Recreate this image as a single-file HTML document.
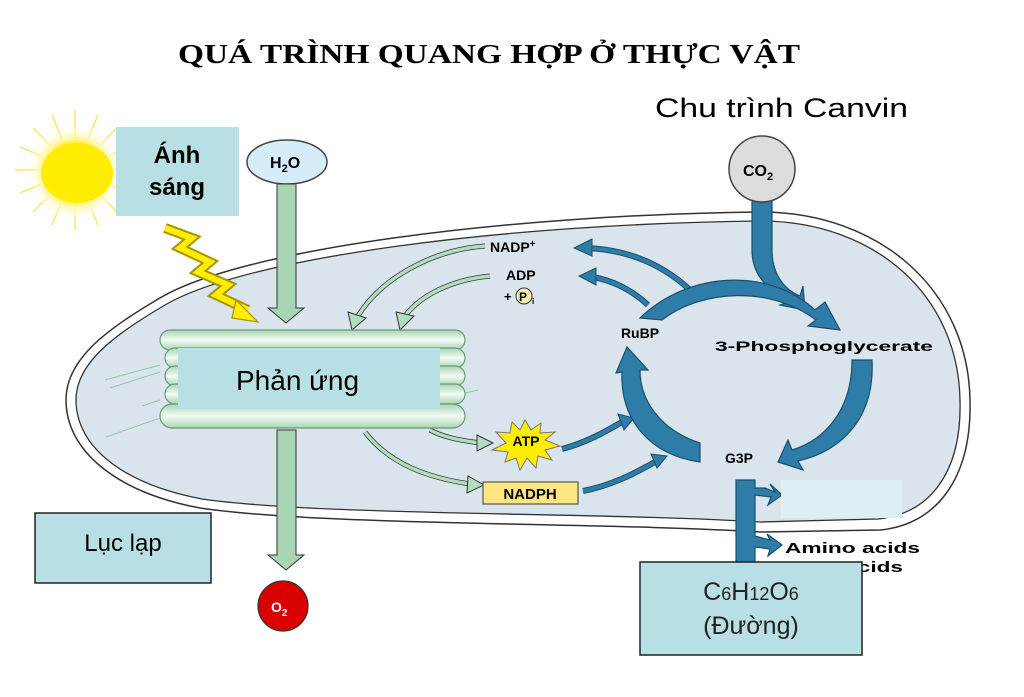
<!DOCTYPE html>
<html><head><meta charset="utf-8"><style>
html,body{margin:0;padding:0;background:#fff;}
svg{display:block;}
text{font-family:"Liberation Sans",sans-serif;}
</style></head><body>
<svg width="1024" height="697" viewBox="0 0 1024 697" xmlns="http://www.w3.org/2000/svg">
<defs>
<radialGradient id="sun" cx="50%" cy="50%" r="50%">
<stop offset="0" stop-color="#ffee00"/><stop offset="0.55" stop-color="#ffe800"/><stop offset="0.7" stop-color="#fff6a0"/><stop offset="1" stop-color="#fff" stop-opacity="0"/>
</radialGradient>
<linearGradient id="disc" x1="0" y1="0" x2="0" y2="1">
<stop offset="0" stop-color="#a9d4b4"/><stop offset="0.5" stop-color="#f2fbf4"/><stop offset="1" stop-color="#a9d4b4"/>
</linearGradient>
</defs>
<text x="178" y="63" font-weight="bold" font-size="27" textLength="622" lengthAdjust="spacingAndGlyphs" style="font-family:'Liberation Serif',serif">QUÁ TRÌNH QUANG HỢP Ở THỰC VẬT</text>
<text x="655" y="117" font-size="27" textLength="253" lengthAdjust="spacingAndGlyphs">Chu trình Canvin</text>

<!-- chloroplast -->
<path d="M160,298 C240,250 500,215 760,212 C880,212 968,290 970,400 C972,480 935,525 880,530 L760,532 C600,522 320,526 200,508 C115,492 66,450 66,400 C66,360 105,330 160,298 Z" fill="#fff" stroke="#333" stroke-width="1.5"/>
<path d="M165,305 C245,258 500,224 760,221 C875,221 958,295 960,400 C962,475 928,514 878,519 L760,522 C600,512 320,516 202,499 C122,484 76,446 76,400 C76,364 112,336 165,305 Z" fill="#d9e4ed" stroke="#333" stroke-width="1.3"/>

<!-- sun -->
<g stroke="#ffe36a" stroke-width="1.5">
<line x1="75" y1="110" x2="75" y2="230"/><line x1="15" y1="170" x2="135" y2="170"/>
<line x1="33" y1="128" x2="117" y2="212"/><line x1="33" y1="212" x2="117" y2="128"/>
<line x1="52" y1="115" x2="98" y2="225"/><line x1="98" y1="115" x2="52" y2="225"/>
<line x1="20" y1="147" x2="130" y2="193"/><line x1="20" y1="193" x2="130" y2="147"/>
</g>
<circle cx="75" cy="172" r="48" fill="url(#sun)"/>
<ellipse cx="77" cy="173" rx="36" ry="30" fill="#ffec00"/>
<rect x="116" y="127" width="123" height="89" fill="#b8dfe3"/>
<text x="177" y="163" font-size="24" font-weight="bold" text-anchor="middle">Ánh</text>
<text x="177" y="195" font-size="24" font-weight="bold" text-anchor="middle">sáng</text>

<!-- lightning -->
<polyline points="165,228 192,238 180,248 210,262 198,272 228,285 216,295 248,310" fill="none" stroke="#a89400" stroke-width="10" stroke-linejoin="miter"/>
<polyline points="165,228 192,238 180,248 210,262 198,272 228,285 216,295 248,310" fill="none" stroke="#ffee00" stroke-width="6" stroke-linejoin="miter"/>
<polygon points="236,300 258,322 232,318" fill="#ffee00" stroke="#a89400" stroke-width="1.2"/>

<!-- H2O -->
<ellipse cx="287" cy="162" rx="40" ry="22" fill="#d6ecf8" stroke="#444" stroke-width="1.5"/>
<text x="270" y="168" font-size="16" font-weight="bold">H<tspan font-size="11" dy="4">2</tspan><tspan dy="-4">O</tspan></text>
<path d="M277,184 L296,184 L296,308 L304,308 L286,323 L268,308 L277,308 Z" fill="#a8d5b4" stroke="#333" stroke-width="1"/>

<!-- green arrows -->
<g fill="none" stroke="#333" stroke-width="5">
<path d="M485,246 C430,250 380,280 358,316"/><path d="M490,276 C450,280 420,296 405,316"/>
<path d="M365,432 C390,465 430,478 470,484"/><path d="M430,430 C445,438 460,440 480,443"/>
</g>
<g fill="none" stroke="#b3dcbe" stroke-width="3.5">
<path d="M485,246 C430,250 380,280 358,316"/><path d="M490,276 C450,280 420,296 405,316"/>
<path d="M365,432 C390,465 430,478 470,484"/><path d="M430,430 C445,438 460,440 480,443"/>
</g>
<g fill="#b3dcbe" stroke="#333" stroke-width="1">
<polygon points="348,312 366,318 352,330"/><polygon points="396,312 414,316 400,330"/>
<polygon points="468,476 484,485 467,493"/><polygon points="477,435 493,443 477,451"/>
</g>

<!-- thylakoid stack -->
<g stroke="#6a9a78" stroke-width="1.2" fill="url(#disc)">
<rect x="160" y="330" width="305" height="20" rx="10"/>
<rect x="165" y="348" width="300" height="20" rx="10"/>
<rect x="165" y="366" width="300" height="20" rx="10"/>
<rect x="165" y="384" width="300" height="20" rx="10"/>
<rect x="160" y="404" width="305" height="24" rx="12"/>
</g>
<g stroke="#8fcaa0" stroke-width="1"><line x1="105" y1="380" x2="160" y2="365"/><line x1="110" y1="388" x2="160" y2="372"/><line x1="142" y1="406" x2="160" y2="400"/><line x1="106" y1="437" x2="160" y2="418"/><line x1="465" y1="393" x2="478" y2="390"/></g>
<rect x="178" y="348" width="262" height="61" fill="#b8dfe3"/>
<text x="236" y="390" font-size="28">Phản ứng</text>

<!-- down arrow -->
<path d="M277,430 L296,430 L296,555 L304,555 L286,570 L268,555 L277,555 Z" fill="#a8d5b4" stroke="#333" stroke-width="1"/>
<circle cx="283" cy="606" r="25" fill="#d80000" stroke="#333" stroke-width="1.2"/>
<text x="271" y="612" font-size="14" font-weight="bold" fill="#fff">O<tspan font-size="10" dy="4">2</tspan></text>

<rect x="35" y="513" width="176" height="70" fill="#b8dfe3" stroke="#222" stroke-width="1.5"/>
<text x="123" y="551" font-size="24" text-anchor="middle">Lục lạp</text>

<!-- labels -->
<text x="490" y="252" font-size="14" font-weight="bold">NADP<tspan font-size="10" dy="-5">+</tspan></text>
<text x="506" y="280" font-size="14" font-weight="bold">ADP</text>
<text x="504" y="301" font-size="13" font-weight="bold">+</text>
<circle cx="524" cy="296" r="8" fill="#f5eeb0" stroke="#333"/>
<text x="519" y="301" font-size="12" font-weight="bold">P</text>
<text x="532" y="304" font-size="8" font-weight="bold">i</text>

<!-- ATP star -->
<polygon points="525,420 531,430 541,423 540,433 555,432 545,440 560,446 545,450 552,460 538,456 536,468 527,458 520,470 516,458 505,462 508,452 492,450 506,443 496,432 510,433 512,422 520,430" fill="#ffee00" stroke="#777" stroke-width="1"/>
<text x="526" y="446" font-size="14" font-weight="bold" text-anchor="middle">ATP</text>
<rect x="483" y="482" width="95" height="22" fill="#ffe680" stroke="#555" stroke-width="1.2"/>
<text x="530" y="499" font-size="15" font-weight="bold" text-anchor="middle">NADPH</text>

<!-- blue arrows -->
<g fill="none" stroke="#1c4f6a" stroke-width="6">
<path d="M562,449 C585,443 605,432 622,422"/><path d="M583,491 C615,485 640,470 655,462"/>
<path d="M690,290 C660,262 625,250 588,248"/>
<path d="M648,305 C632,290 612,280 592,277"/>
</g>
<g fill="none" stroke="#2e7ca8" stroke-width="4">
<path d="M562,449 C585,443 605,432 622,422"/><path d="M583,491 C615,485 640,470 655,462"/>
<path d="M690,290 C660,262 625,250 588,248"/>
<path d="M648,305 C632,290 612,280 592,277"/>
</g>
<g fill="#2e7ca8" stroke="#1c4f6a" stroke-width="1">
<polygon points="618,414 634,418 624,430"/><polygon points="651,454 667,456 657,468"/>
<polygon points="592,239 574,248 592,256"/><polygon points="596,268 579,276 596,285"/>
</g>

<!-- CO2 -->
<path d="M752,195 L772,195 L772,250 C772,275 785,290 800,296 L803,286 L805,310 L780,305 L792,300 C768,292 752,275 752,250 Z" fill="#2e7ca8" stroke="#1c4f6a" stroke-width="1.2"/>
<circle cx="762" cy="169" r="33" fill="#dcdcdc" stroke="#444" stroke-width="1.5"/>
<text x="743" y="176" font-size="16" font-weight="bold">CO<tspan font-size="11" dy="4">2</tspan></text>

<!-- Calvin cycle arcs -->
<path d="M640,318 C690,270 770,268 815,310 L825,302 L840,330 L808,326 L816,320 C770,285 700,290 662,320 Z" fill="#2e7ca8" stroke="#1c4f6a" stroke-width="1.2"/>
<path d="M872,360 L852,360 C852,410 825,440 792,450 L788,440 L778,462 L803,470 L798,461 C845,450 875,415 872,360 Z" fill="#2e7ca8" stroke="#1c4f6a" stroke-width="1.2"/>
<path d="M700,462 L700,443 C660,430 640,400 640,370 L648,370 L627,347 L616,373 L622,372 C620,420 650,455 700,462 Z" fill="#2e7ca8" stroke="#1c4f6a" stroke-width="1.2"/>

<text x="640" y="338" font-size="14" font-weight="bold" text-anchor="middle">RuBP</text>
<text x="715" y="351" font-size="14" font-weight="bold" textLength="218" lengthAdjust="spacingAndGlyphs">3-Phosphoglycerate</text>
<text x="725" y="463" font-size="14" font-weight="bold">G3P</text>

<!-- G3P outputs -->
<path d="M736,480 L755,480 L755,488 L765,488 L775,492 L770,484 L782,495 L768,505 L771,497 L755,495 L755,536 L770,540 L767,534 L782,545 L768,556 L770,549 L755,547 L755,562 L736,562 Z" fill="#2e7ca8" stroke="#1c4f6a" stroke-width="1.2"/>
<rect x="781" y="480" width="121" height="38" fill="#dcf0f4"/>
<text x="785" y="553" font-size="15" font-weight="bold" textLength="135" lengthAdjust="spacingAndGlyphs">Amino acids</text>
<text x="785" y="572" font-size="15" font-weight="bold" textLength="118" lengthAdjust="spacingAndGlyphs">Fatty acids</text>

<rect x="640" y="562" width="222" height="93" fill="#b8dfe3" stroke="#222" stroke-width="1.5"/>
<text x="751" y="600" font-size="25" text-anchor="middle" fill="#222">C<tspan font-size="18">6</tspan>H<tspan font-size="18">12</tspan>O<tspan font-size="18">6</tspan></text>
<text x="751" y="634" font-size="25" text-anchor="middle" fill="#222">(Đường)</text>
</svg>
</body></html>
